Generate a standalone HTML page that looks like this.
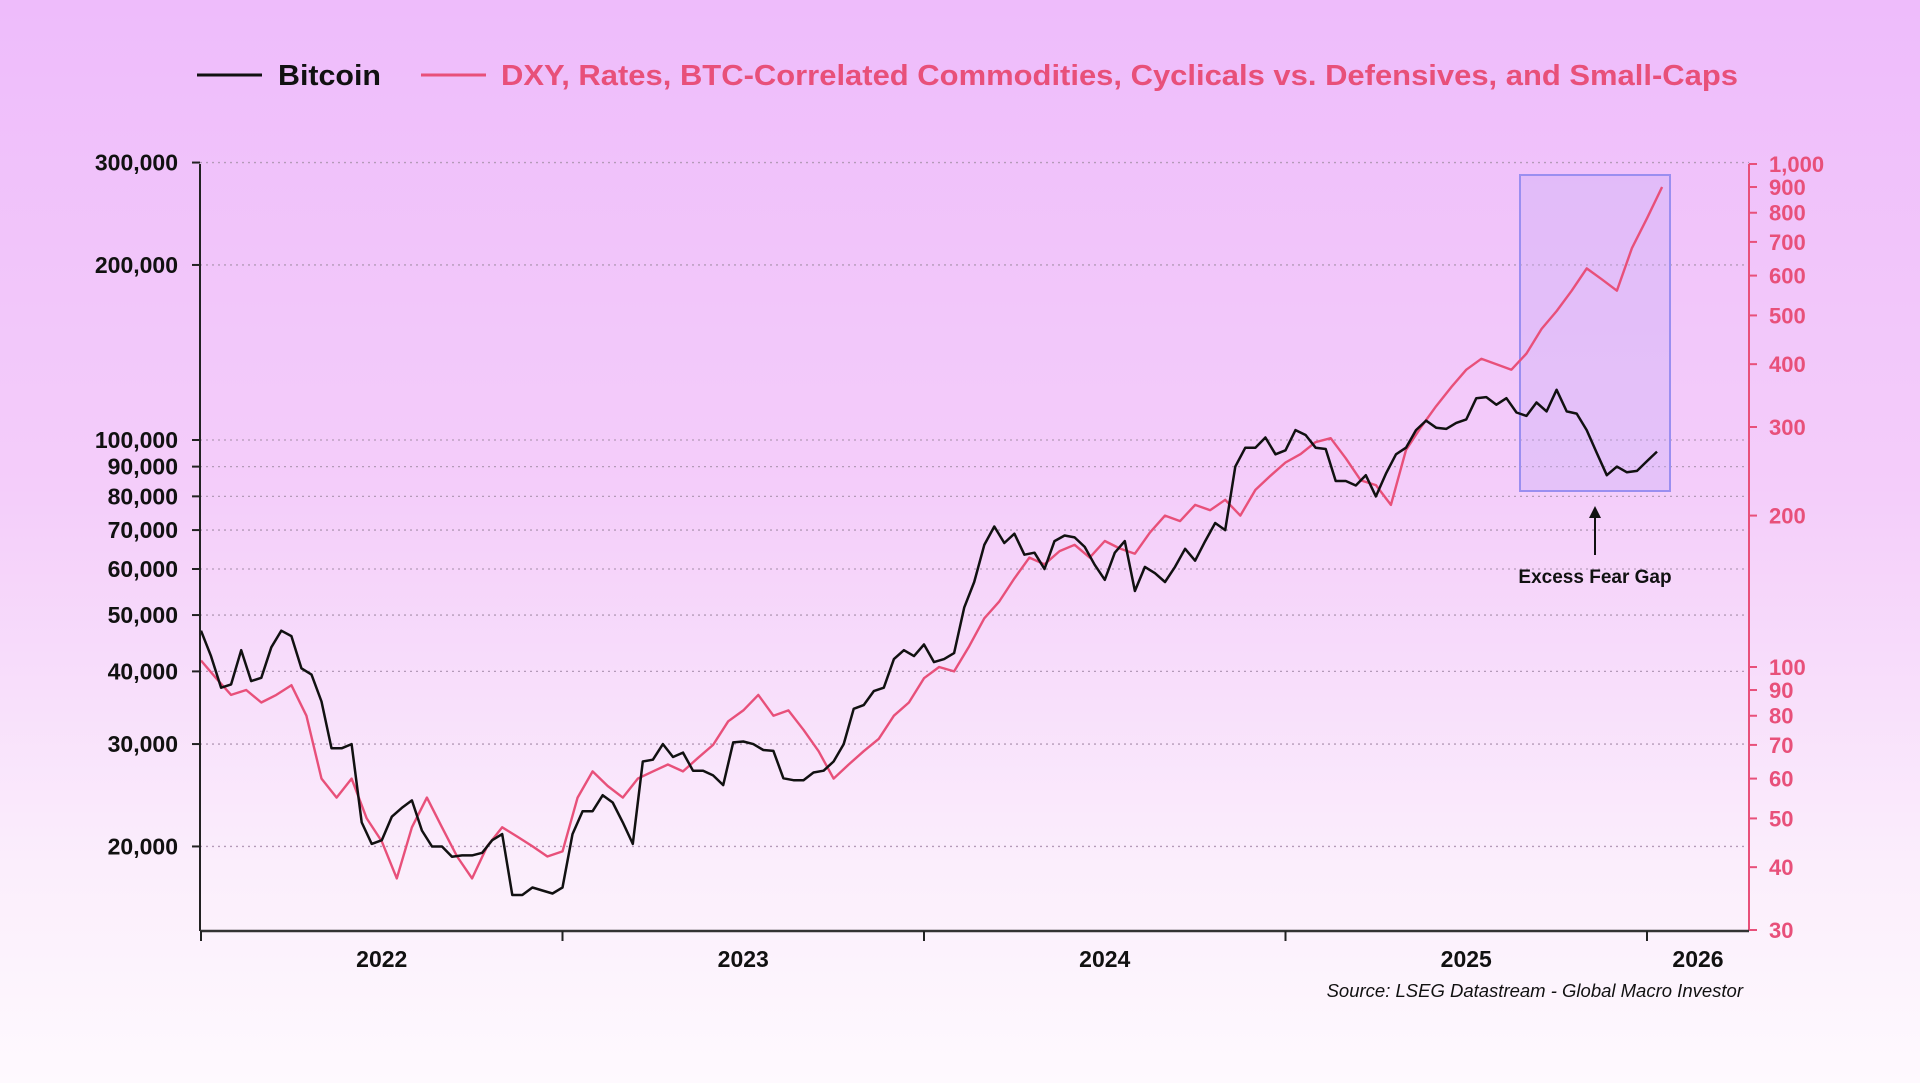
<!DOCTYPE html>
<html><head><meta charset="utf-8">
<style>
html,body{margin:0;padding:0;width:1920px;height:1083px;overflow:hidden;}
body{background:linear-gradient(180deg,#eebcfb 0%,#f4cdfa 45%,#fbeefc 80%,#fef9fe 100%);font-family:"Liberation Sans",sans-serif;}
svg{position:absolute;left:0;top:0;}
</style></head><body>
<svg id="chart" width="1920" height="1083">
  <g>
    <line x1="197" y1="75" x2="262" y2="75" stroke="#111" stroke-width="3"/>
    <text x="278" y="85" font-size="29" font-weight="bold" fill="#111" textLength="103" lengthAdjust="spacingAndGlyphs">Bitcoin</text>
    <line x1="421" y1="75" x2="486" y2="75" stroke="#e8507a" stroke-width="3"/>
    <text x="501" y="85" font-size="29" font-weight="bold" fill="#e8507a" textLength="1237" lengthAdjust="spacingAndGlyphs">DXY, Rates, BTC-Correlated Commodities, Cyclicals vs. Defensives, and Small-Caps</text>
  </g>
  <g id="grid"></g>
  <rect x="1520" y="175" width="150" height="316" fill="#c9b0f5" fill-opacity="0.35" stroke="#9a8ef0" stroke-width="2"/>
  <g id="series"></g>
  <g id="axes"></g>
  <g>
    <line x1="1595" y1="555" x2="1595" y2="516" stroke="#111" stroke-width="2"/>
    <polygon points="1589,518 1601,518 1595,506" fill="#111"/>
    <text x="1595" y="583" font-size="19" font-weight="bold" fill="#111" text-anchor="middle">Excess Fear Gap</text>
  </g>
  <text x="1743" y="997" font-size="18.5" font-style="italic" fill="#111" text-anchor="end">Source: LSEG Datastream - Global Macro Investor</text>
</svg>
<script>
// ---- data ----
const btcStart = 2022.0, btcStep = 1/36;
const btcValues = [
47000,42500,37500, 38000,43500,38500, 39000,44000,47000,
46000,40500,39500, 35500,29500,29500, 30000,22000,20200,
20500,22500,23300, 24000,21300,20000, 20000,19200,19300,
19300,19500,20500, 21000,16500,16500, 17000,16800,16600,
17000,21000,23000, 23000,24500,23800, 22000,20200,28000,
28200,30000,28500, 29000,27000,27000, 26500,25500,30200,
30300,30000,29300, 29200,26200,26000, 26000,26800,27000,
28000,30000,34500, 35000,37000,37500, 42000,43500,42500,
44500,41500,42000, 43000,51500,57000, 66000,71000,66500,
69000,63500,64000, 60000,67000,68500, 68000,65500,61000,
57500,64000,67000, 55000,60500,59000, 57000,60500,65000,
62000,67000,72000, 70000,90000,97000, 97000,101000,94500,
96000,104000,102000, 97000,96500,85000, 85000,83500,87000,
80000,87500,94500, 97000,104000,108000, 105000,104500,107000,
108500,118000,118500, 115000,118000,111500, 110000,116000,112000,
122000,112000,111000, 104000,95000,87000, 90000,88000,88500,
92000,95500
];
const macroStart = 2022.0, macroStep = 1/24;
const macroValues = [
103,95,88,90,85,88,92,80,60,55,60,50,45,38,48,55,48,42,38,44,48,46,44,42,
43,55,62,58,55,60,62,64,62,66,70,78,82,88,80,82,75,68,60,64,68,72,80,85,
95,100,98,110,125,135,150,165,160,170,175,165,178,172,168,185,200,195,210,205,215,200,225,240,
255,265,280,285,260,235,230,210,270,300,330,360,390,410,400,390,420,470,510,560,620,590,560,680,780,900
];
const leftTicks = [300000,200000,100000,90000,80000,70000,60000,50000,40000,30000,20000];
const rightTicks = [1000,900,800,700,600,500,400,300,200,100,90,80,70,60,50,40,30];
const yearTicks = [2022,2023,2024,2025,2026];
const yearLabels = ["2022","2023","2024","2025","2026"];

// ---- scales ----
const X0=201, PXY=361.5, LEFT=200, RIGHT=1749, TOP=164, BOTTOM=931;
function xScale(t){return X0+(t-2022)*PXY;}
function yLeft(v){return 440-(Math.log10(v)-5)*581.5;}
function yRight(v){return 164-(Math.log10(v)-3)*503;}
const NS="http://www.w3.org/2000/svg";
function mk(tag,attrs,parent){const e=document.createElementNS(NS,tag);for(const k in attrs)e.setAttribute(k,attrs[k]);parent.appendChild(e);return e;}
const grid=document.getElementById('grid'), axes=document.getElementById('axes'), series=document.getElementById('series');

leftTicks.forEach(v=>{
  const y=yLeft(v);
  const g=mk('line',{x1:LEFT,x2:RIGHT,y1:y,y2:y,stroke:'#b49ab8','stroke-width':1.3,'stroke-dasharray':'2,4'},grid);
  
  
  const tk=mk('line',{x1:LEFT-8,x2:LEFT,y1:y,y2:y,stroke:'#222','stroke-width':2},axes);
  
  
  const t=mk('text',{x:178,y:y+8,'font-size':23,'font-weight':'bold','text-anchor':'end',fill:'#111'},axes);
  t.textContent=v.toLocaleString('en-US');
  
  
});
rightTicks.forEach(v=>{
  const y=yRight(v);
  const tk=mk('line',{x1:RIGHT,x2:RIGHT+8,y1:y,y2:y,stroke:'#e8507a','stroke-width':2},axes);
  
  
  const t=mk('text',{x:1769,y:y+8,'font-size':22,'font-weight':'bold',fill:'#e8507a'},axes);
  t.textContent=v.toLocaleString('en-US');
  
  
});
const la=mk('line',{x1:LEFT,x2:LEFT,y1:TOP,y2:BOTTOM,stroke:'#222','stroke-width':2},axes);


const ra=mk('line',{x1:RIGHT,x2:RIGHT,y1:TOP,y2:BOTTOM,stroke:'#e8507a','stroke-width':2},axes);


const ba=mk('line',{x1:LEFT,x2:RIGHT,y1:BOTTOM,y2:BOTTOM,stroke:'#333','stroke-width':2.5},axes);


yearTicks.forEach((yr,i)=>{
  const x=xScale(yr);
  const tk=mk('line',{x1:x,x2:x,y1:BOTTOM,y2:BOTTOM+10,stroke:'#222','stroke-width':2},axes);
  
  
  const next=i<yearTicks.length-1?xScale(yearTicks[i+1]):RIGHT;
  const t=mk('text',{x:(x+next)/2,y:967,'font-size':23,'font-weight':'bold','text-anchor':'middle',fill:'#111'},axes);
  t.textContent=yearLabels[i];
  
  
});
function path(vals,start,step,ys){
  return vals.map((v,i)=>(i?'L':'M')+xScale(start+i*step).toFixed(1)+','+ys(v).toFixed(1)).join(' ');
}
const pm=mk('path',{d:path(macroValues,macroStart,macroStep,yRight),fill:'none',stroke:'#e8507a','stroke-width':2.4,'stroke-linejoin':'round'},series);


const pb=mk('path',{d:path(btcValues,btcStart,btcStep,yLeft),fill:'none',stroke:'#111','stroke-width':2.5,'stroke-linejoin':'round'},series);


</script>
</body></html>
